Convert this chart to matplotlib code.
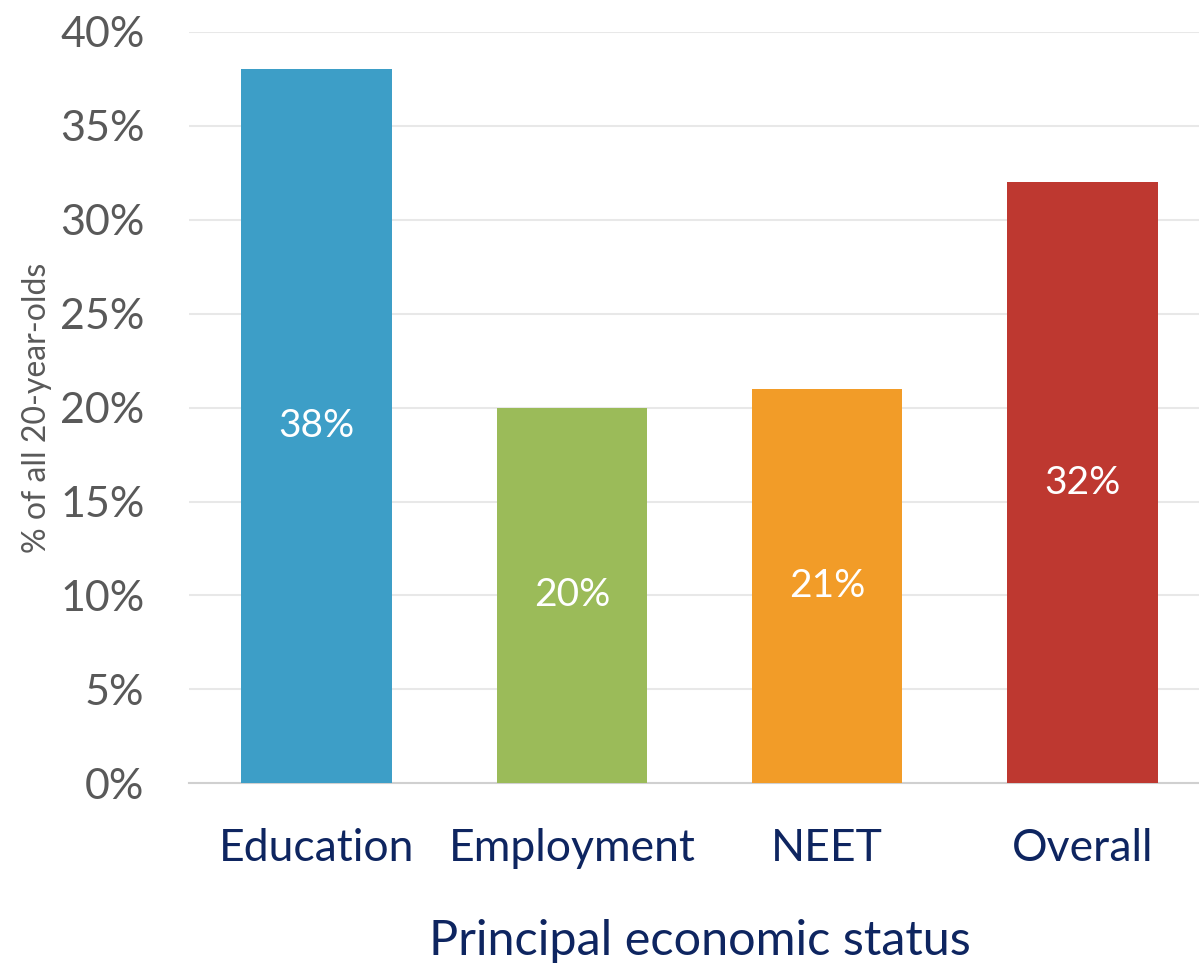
import matplotlib.pyplot as plt
from matplotlib.ticker import FuncFormatter

plt.rcParams['font.family'] = ['Lato', 'DejaVu Sans']

statuses = ['Education', 'Employment', 'NEET', 'Overall']
shares = [38, 20, 21, 32]
bar_colors = ['#3D9EC7', '#9BBB59', '#F29C28', '#BE3830']
y_ticks = [0, 5, 10, 15, 20, 25, 30, 35, 40]

NAVY = '#0E2560'
GREY = '#595959'

fig = plt.figure(figsize=(11.99, 9.67), dpi=100)
# plot area runs slightly past the right edge of the canvas
ax = fig.add_axes([0.1576, 0.190, 0.8515, 0.777])

xs = range(len(statuses))
bars = ax.bar(xs, shares, width=0.59, color=bar_colors, zorder=3)

for bar, val in zip(bars, shares):
    ax.text(bar.get_x() + bar.get_width() / 2, val / 2, '{}%'.format(val),
            ha='center', va='center', color='white', fontsize=28, zorder=4)

ax.set_xlim(-0.5, len(statuses) - 0.5)
ax.set_ylim(0, 40)
ax.set_yticks(y_ticks)
ax.yaxis.set_major_formatter(FuncFormatter(lambda v, _: '{:.0f}%'.format(v)))
ax.set_xticks(list(xs))
ax.set_xticklabels(statuses)

ax.grid(axis='y', color='#E8E8E8', linewidth=1.5, zorder=0)
for side in ['top', 'right', 'left']:
    ax.spines[side].set_visible(False)
ax.spines['bottom'].set_color('#D0D0D0')
ax.spines['bottom'].set_linewidth(1.5)

ax.tick_params(axis='y', length=0, pad=32, labelsize=31, labelcolor=GREY)
ax.tick_params(axis='x', length=0, pad=32, labelsize=32, labelcolor=NAVY)

ax.set_ylabel('% of all 20-year-olds', fontsize=23, color=GREY, labelpad=6)
ax.set_xlabel('Principal economic status', fontsize=35, color=NAVY, labelpad=36)

fig.savefig('out.png', dpi=100)
